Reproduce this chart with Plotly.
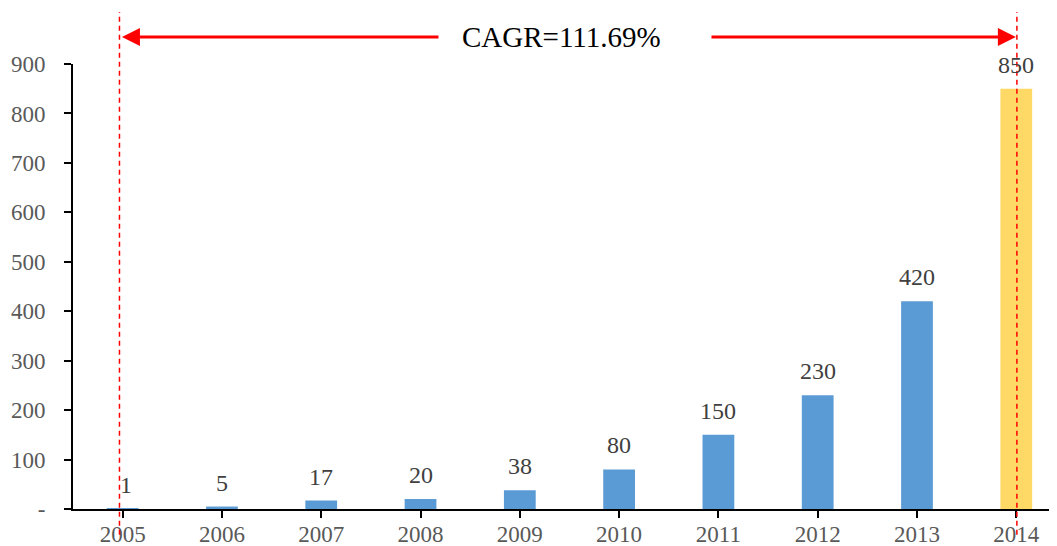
import plotly.graph_objects as go

years = ["2005", "2006", "2007", "2008", "2009", "2010", "2011", "2012", "2013", "2014"]
values = [1, 5, 17, 20, 38, 80, 150, 230, 420, 850]
bar_colors = ["#5B9BD5"] * 9 + ["#FFD966"]
y_ticks = [0, 100, 200, 300, 400, 500, 600, 700, 800, 900]
y_ticktext = ["-", "100", "200", "300", "400", "500", "600", "700", "800", "900"]
cagr_text = "CAGR=111.69%"

FONT = "Liberation Serif, Times New Roman, serif"

fig = go.Figure()
fig.add_trace(go.Bar(
    x=list(range(len(years))), y=values,
    marker=dict(color=bar_colors, line=dict(width=0)),
    cliponaxis=False, width=0.32,
))

# data labels
for i, v in enumerate(values):
    fig.add_annotation(x=i, y=v, xref="x", yref="y", text=str(v),
                       showarrow=False, yanchor="bottom", yshift=9,
                       xshift=3 if v < 10 and i == 0 else 0,
                       font=dict(family=FONT, size=24, color="#404040"))

# page body has an 8px margin; compensate
fig.update_layout(
    width=1049, height=538,
    margin=dict(l=65, r=0, t=56, b=37),
    plot_bgcolor="white", paper_bgcolor="white",
    showlegend=False,
    xaxis=dict(
        range=[-0.5, 9.41], tickmode="array",
        tickvals=list(range(len(years))), ticktext=years,
        tickson="boundaries", ticks="outside", ticklen=7, tickwidth=2,
        tickcolor="#000000", showline=True, linecolor="#000000", linewidth=2,
        showgrid=False, zeroline=False, ticklabelstandoff=-4, automargin=False,
        tickfont=dict(family=FONT, size=23, color="#595959"),
    ),
    yaxis=dict(
        range=[0, 900], tickmode="array", tickvals=y_ticks, ticktext=y_ticktext,
        ticks="outside", ticklen=7, tickwidth=2, tickcolor="#000000",
        showline=True, linecolor="#000000", linewidth=2, automargin=False,
        showgrid=False, zeroline=False, ticklabelstandoff=14,
        tickfont=dict(family=FONT, size=23, color="#595959"),
    ),
)

# dashed reference lines
for xv in [-0.032, 9.006]:
    fig.add_shape(type="line", xref="x", yref="paper", x0=xv, x1=xv,
                  y0=-0.058, y1=1.117,
                  line=dict(color="#FF0000", width=1.5, dash="5px,4px"))

ya = (509 - 37) / 445
# arrows
fig.add_annotation(xref="x", yref="paper", axref="x", ayref="pixel",
                   x=-0.007, y=ya, ax=3.196, ay=0, text="", showarrow=True,
                   arrowhead=2, arrowsize=1.2, arrowwidth=3, arrowcolor="#FF0000")
fig.add_annotation(xref="x", yref="paper", axref="x", ayref="pixel",
                   x=8.996, y=ya, ax=5.915, ay=0, text="", showarrow=True,
                   arrowhead=2, arrowsize=1.2, arrowwidth=3, arrowcolor="#FF0000")
fig.add_annotation(xref="x", yref="paper", x=4.42, y=ya, yanchor="middle",
                   text=cagr_text, showarrow=False,
                   font=dict(family=FONT, size=29, color="#000000"))

fig.write_html("out.html")
